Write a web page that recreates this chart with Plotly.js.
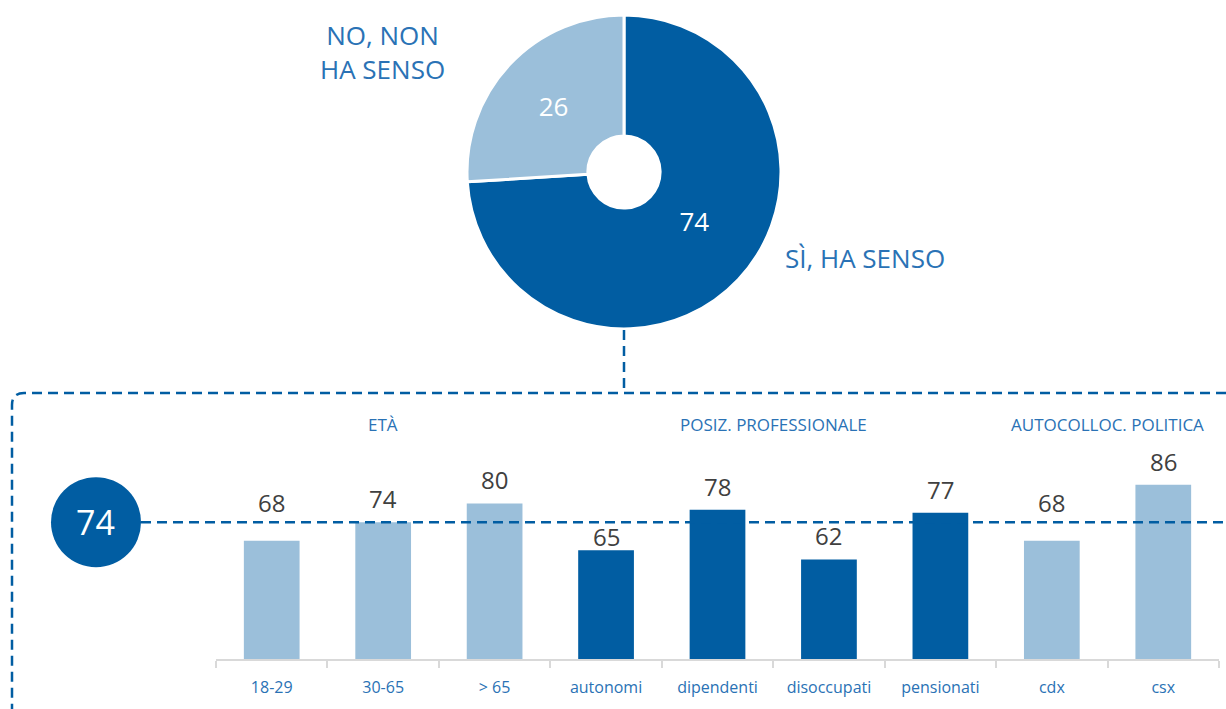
<!DOCTYPE html>
<html>
<head>
<meta charset="utf-8">
<script src="https://cdn.plot.ly/plotly-3.0.1.min.js"></script>
<style>html,body{margin:0;padding:0;background:#fff}#chart{width:1226px;height:709px}</style>
</head>
<body>
<div id="chart"></div>
<script>
// ---- data ----
const pieLabels = ["SÌ, HA SENSO", "NO, NON<br>HA SENSO"];
const pieValues = [74, 26];

const barCategories = ["18-29", "30-65", "> 65", "autonomi", "dipendenti", "disoccupati", "pensionati", "cdx", "csx"];
const barValues = [68, 74, 80, 65, 78, 62, 77, 68, 86];
const barGroup = ["age", "age", "age", "prof", "prof", "prof", "prof", "pol", "pol"];

const groupTitles = ["ETÀ", "POSIZ. PROFESSIONALE", "AUTOCOLLOC. POLITICA"];
const groupTitlePos = [1, 4.5, 7.5];

const referenceValue = 74;

// ---- styles ----
const DARK = "#015da2";
const LIGHT = "#9bbfda";
const TXT_BLUE = "#2a72b5";
const FONT = "Open Sans, sans-serif";
const W = 1226, H = 709;
const px = x => x / W;
const py = y => 1 - y / H;

const groupColor = {age: LIGHT, prof: DARK, pol: LIGHT};

const Y_RANGE = [30, 100];
const Y_DOMAIN = [py(659), py(441.3)];
const pxPerUnit = (Y_DOMAIN[1] - Y_DOMAIN[0]) * H / (Y_RANGE[1] - Y_RANGE[0]);

const pie = {
  type: "pie",
  values: pieValues,
  labels: pieLabels,
  sort: false,
  direction: "clockwise",
  rotation: 0,
  hole: 0.23,
  marker: {colors: [DARK, LIGHT], line: {color: "#ffffff", width: 3}},
  texttemplate: ["%{value}<br> ", "%{value}"],
  textposition: "inside",
  insidetextorientation: "horizontal",
  textfont: {family: FONT, size: 26, color: "#ffffff"},
  domain: {x: [px(467), px(781)], y: [py(329), py(15)]},
  showlegend: false,
  hoverinfo: "label+value"
};

const bars = {
  type: "bar",
  x: barCategories,
  y: barValues,
  width: 0.5,
  marker: {color: barGroup.map(g => groupColor[g])},
  textposition: "none",
  xaxis: "x", yaxis: "y",
  showlegend: false
};

// value-label placement: keep labels clear of the dashed reference line
function labelShift(v) {
  const gap = 12, glyphH = 18, clear = 6;
  const lineToTop = (referenceValue - v) * pxPerUnit; // px below the line (y-down)
  let g = gap;
  const top = lineToTop - gap - glyphH, bottom = lineToTop - gap;
  if (bottom > -clear && top < clear) {
    g = lineToTop < 22 ? lineToTop + 8 : lineToTop - 8 - glyphH;
  }
  return g - 7;
}

const annotations = [];
barCategories.forEach((c, i) => annotations.push({
  text: String(barValues[i]), x: c, xref: "x", y: barValues[i], yref: "y",
  showarrow: false, xanchor: "center", yanchor: "bottom", yshift: labelShift(barValues[i]),
  font: {family: FONT, size: 24, color: "#404040"}
}));
groupTitles.forEach((t, i) => annotations.push({
  text: t, x: groupTitlePos[i], xref: "x", y: py(425), yref: "paper",
  showarrow: false, font: {family: FONT, size: 17, color: TXT_BLUE}, xanchor: "center", yanchor: "middle"
}));
annotations.push({
  text: pieLabels[1], x: px(382), y: py(52), xref: "paper", yref: "paper", showarrow: false,
  font: {family: FONT, size: 26, color: TXT_BLUE}, xanchor: "center", yanchor: "middle", align: "center"
});
annotations.push({
  text: pieLabels[0], x: px(783), y: py(258), xref: "paper", yref: "paper", showarrow: false,
  font: {family: FONT, size: 26, color: TXT_BLUE}, xanchor: "left", yanchor: "middle"
});
annotations.push({
  text: String(referenceValue), x: px(96), xref: "paper", y: referenceValue, yref: "y", showarrow: false,
  font: {family: FONT, size: 34, color: "#ffffff"}, xanchor: "center", yanchor: "middle"
});

const dash = "10px,6px";
const shapes = [
  {type: "line", xref: "paper", yref: "paper", x0: px(624), x1: px(624), y0: py(330), y1: py(393),
   line: {color: DARK, width: 2.5, dash: dash}},
  {type: "path", xref: "paper", yref: "paper",
   path: `M ${px(1226)},${py(393)} L ${px(24)},${py(393)} Q ${px(12)},${py(393)} ${px(12)},${py(405)} L ${px(12)},${py(712)}`,
   line: {color: DARK, width: 2.5, dash: dash}},
  {type: "line", xref: "paper", yref: "y", x0: px(141), x1: 1, y0: referenceValue, y1: referenceValue,
   line: {color: DARK, width: 2.5, dash: dash}, layer: "above"},
  {type: "circle", xref: "paper", xsizemode: "pixel", xanchor: px(96), x0: -45, x1: 45,
   yref: "y", ysizemode: "pixel", yanchor: referenceValue, y0: -45, y1: 45,
   fillcolor: DARK, line: {color: DARK, width: 0}}
];

const layout = {
  width: W, height: H,
  margin: {l: 0, r: 0, t: 0, b: 0},
  paper_bgcolor: "#ffffff", plot_bgcolor: "rgba(0,0,0,0)",
  font: {family: FONT},
  xaxis: {
    domain: [px(216), px(1219)],
    type: "category",
    showgrid: false, zeroline: false,
    showline: true, linecolor: "#d9d9d9", linewidth: 2,
    ticks: "outside", tickson: "boundaries", ticklen: 7, tickcolor: "#d9d9d9", tickwidth: 2,
    ticklabelstandoff: 13,
    tickfont: {family: FONT, size: 16, color: TXT_BLUE},
    fixedrange: true
  },
  yaxis: {
    domain: Y_DOMAIN,
    range: Y_RANGE,
    visible: false, showgrid: false, zeroline: false,
    fixedrange: true
  },
  annotations: annotations,
  shapes: shapes,
  bargap: 0.5
};

Plotly.newPlot("chart", [pie, bars], layout, {displayModeBar: false, staticPlot: true});
</script>
</body>
</html>
